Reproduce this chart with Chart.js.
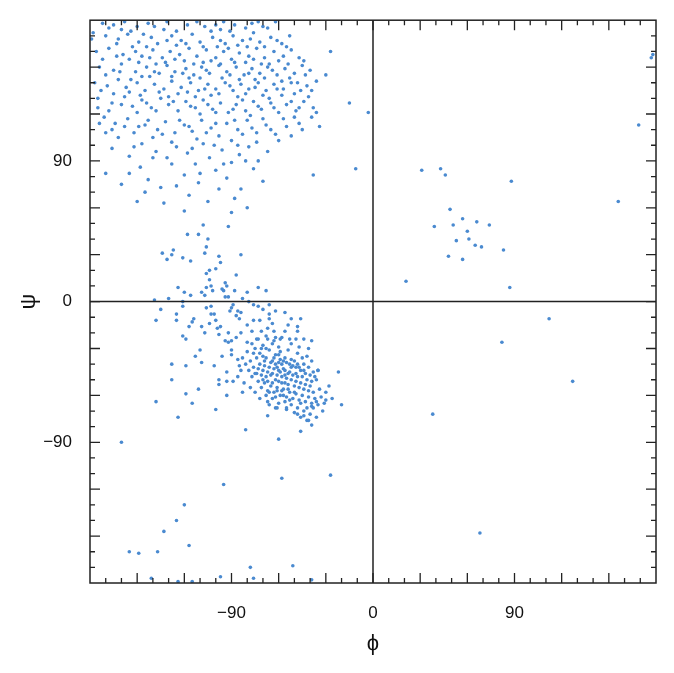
<!DOCTYPE html>
<html><head><meta charset="utf-8">
<script src="https://cdn.jsdelivr.net/npm/chart.js@4/dist/chart.umd.min.js"></script>
<style>html,body{margin:0;padding:0;background:#fff}#w{width:674px;height:673px}</style>
</head><body><div id="w"><canvas id="c"></canvas></div>
<script>
const betaPoints=[[-172,178],[-165,177],[-158,179],[-150,176],[-143,178],[-131,179],[-118,177],[-107,176],[-95,179],[-88,177],[-77,178],[-70,176],[-62,179],[-133,174],[-160,174],[-103,173],[-97,174],[-67,175],
[-178,172],[-170,170],[-162,168],[-156,171],[-149,166],[-141,169],[-137,165],[-128,170],[-122,167],[-115,171],[-110,166],[-102,169],[-94,165],[-89,170],[-83,167],[-76,172],[-72,166],[-65,169],[-58,165],[-53,170],[-146,171],[-125,164],[-99,163],[-80,163],
[-176,160],[-168,162],[-159,158],[-153,163],[-147,157],[-140,161],[-134,156],[-129,160],[-123,158],[-117,162],[-112,157],[-106,161],[-100,156],[-95,160],[-90,155],[-85,159],[-79,157],[-74,162],[-69,156],[-63,160],[-57,157],[-52,161],[-47,156],[-155,155],[-138,152],[-120,154],[-108,153],[-92,162],[-81,153],[-66,152],
[-174,150],[-165,148],[-160,152],[-151,147],[-144,150],[-136,146],[-131,151],[-126,147],[-119,149],[-114,145],[-109,150],[-104,146],[-98,151],[-93,147],[-87,150],[-82,145],[-77,149],[-72,146],[-67,150],[-61,145],[-56,149],[-50,146],[-45,151],[-40,148],[-142,144],[-117,143],[-96,143],[-75,142],[-58,141],[-48,140],
[-177,140],[-169,138],[-162,142],[-157,137],[-150,140],[-145,135],[-139,139],[-133,136],[-128,141],[-122,137],[-116,140],[-111,135],[-105,139],[-100,136],[-94,140],[-89,135],[-84,139],[-79,136],[-73,140],[-68,135],[-63,139],[-57,136],[-52,140],[-46,135],[-42,138],[-36,141],[-124,133],[-103,132],[-86,131],[-70,132],
[-175,130],[-166,127],[-158,131],[-153,125],[-147,129],[-141,124],[-135,130],[-130,126],[-124,122],[-119,128],[-113,124],[-108,129],[-102,123],[-97,127],[-92,121],[-87,126],[-81,122],[-76,128],[-71,123],[-65,127],[-60,121],[-55,126],[-49,122],[-44,128],[-38,124],[-150,121],[-110,120],[-78,119],[-58,132],[-41,131],
[-171,118],[-164,114],[-156,117],[-149,112],[-143,116],[-137,110],[-132,115],[-126,108],[-120,113],[-115,109],[-109,116],[-103,111],[-98,106],[-93,114],[-86,110],[-80,116],[-74,108],[-68,113],[-62,107],[-55,112],[-50,118],[-170,108],[-140,105],[-112,104],[-90,103],[-60,103],[-45,110],[-175,124],[-162,105],
[-166,98],[-155,93],[-147,101],[-138,96],[-131,92],[-125,99],[-118,95],[-113,88],[-108,101],[-104,92],[-96,97],[-90,89],[-85,94],[-79,99],[-73,90],[-67,96],[-155,82],[-148,86],[-143,78],[-135,73],[-128,88],[-120,81],[-111,76],[-100,84],[-93,79],[-84,72],[-76,85],[-70,77],[-160,75],[-145,70],[-117,68],[-105,64],[-90,57],[-80,60],[-170,82],[-133,63],[-120,58],[-98,72],
[-38,81],[-15,127],[-3,121],[-11,85],[-30,145],[-27,160],[-179,168],
[-168,175],[-154,173],[-139,176],[-125,173],[-112,179],[-100,177],[-91,173],[-81,175],[-73,179],[-163,165],[-151,160],[-144,163],[-131,167],[-119,165],[-108,163],[-97,167],[-86,164],[-78,168],[-69,163],[-61,167],[-55,163],[-172,155],[-163,157],[-149,153],[-142,156],[-132,153],[-126,155],[-114,152],[-103,154],[-97,152],[-88,153],[-76,155],[-71,152],[-60,154],[-54,152],[-44,154],[-170,145],[-161,147],[-154,142],[-147,144],[-139,147],[-128,144],[-121,146],[-110,143],[-106,148],[-91,145],[-85,142],[-79,146],[-69,143],[-64,148],[-53,143],[-43,145],[-173,135],[-165,133],[-155,134],[-148,132],[-136,134],[-130,131],[-118,134],[-113,131],[-107,136],[-98,133],[-91,138],[-81,133],[-75,137],[-66,130],[-61,136],[-50,133],[-39,135],[-168,122],[-160,126],[-144,127],[-138,122],[-127,128],[-116,125],[-105,126],[-100,121],[-89,123],[-83,129],[-73,125],[-63,124],[-52,128],[-47,124],[-36,121],[-166,110],[-158,112],[-152,108],[-145,113],[-134,107],[-123,116],[-117,112],[-106,108],[-100,114],[-88,116],[-83,107],[-77,111],[-70,117],[-65,110],[-57,117],[-52,106],[-47,114],[-39,118],[-34,112],[-174,114],[-152,99],[-140,92],[-128,102],[-115,98],[-101,100],[-86,100],[-81,90],[-150,64],[-125,74],[-110,82],[-95,88],[-88,66],[-74,102],[-108,49],[-92,48]];
const bridgePoints=[[-118,43],[-111,43],[-105,40],[-106,35],[-134,31],[-127,33],[-128,30],[-131,27],[-121,28],[-116,26],[-107,31],[-98,29],[-97,25],[-84,30],[-100,21],[-104,20],[-106,18],[-87,17],[-104,14],[-103,10],[-106,9],[-124,9],[-120,6],[-116,4],[-109,6],[-107,4],[-102,7],[-96,8],[-94,12],[-93,10],[-95,7],[-88,7],[-80,6],[-73,9],[-68,7],[-94,3],[-92,3],[-83,2],[-79,0],[-130,2],[-139,1],[-121,0],[-121,-3],[-135,-5],[-138,-12],[-125,-8],[-125,-12],[-114,-11],[-115,-13],[-117,-16],[-103,-3],[-106,-4],[-103,-8],[-101,-8],[-104,-14],[-100,-12],[-97,-16],[-99,-17],[-109,-16],[-107,-20],[-98,-21],[-92,-20],[-121,-22],[-119,-24],[-90,-4],[-89,-2],[-91,-6],[-86,-6],[-84,-7],[-87,-9],[-85,-11],[-76,-2],[-73,-3],[-70,-5],[-66,-2],[-62,-6],[-56,-7],[-66,-8],[-80,-15],[-76,-12],[-72,-12],[-77,-19],[-71,-19],[-66,-11],[-64,-14],[-67,-17],[-63,-19],[-52,-11],[-46,-11],[-54,-15],[-48,-16],[-48,-19],[-56,-19],[-62,-23],[-84,-20],[-87,-23],[-92,-26],[-94,-25],[-90,-25],[-80,-26],[-74,-24],[-67,-24],[-59,-24],[-53,-24],[-49,-24],[-44,-24],[-39,-25]];
const alphaPoints=[[-75,-30],[-72,-33],[-70,-28],[-68,-36],[-66,-31],[-64,-38],[-62,-34],[-60,-29],[-58,-40],[-56,-36],[-54,-31],[-52,-42],[-50,-38],[-48,-33],[-46,-44],[-44,-40],[-42,-35],[-78,-38],[-76,-42],[-74,-46],[-72,-40],[-70,-44],[-68,-48],[-66,-42],[-64,-46],[-62,-50],[-60,-44],[-58,-48],[-56,-52],[-54,-46],[-52,-50],[-50,-54],[-48,-48],[-46,-52],[-44,-56],[-42,-50],[-40,-54],[-38,-58],[-73,-51],[-71,-55],[-69,-52],[-67,-57],[-65,-54],[-63,-58],[-61,-55],[-59,-60],[-57,-56],[-55,-61],[-53,-58],[-51,-62],[-49,-59],[-47,-63],[-45,-60],[-43,-64],[-41,-61],[-39,-65],[-37,-62],[-35,-66],[-62,-40],[-59,-37],[-57,-43],[-55,-39],[-53,-45],[-51,-41],[-49,-46],[-47,-42],[-65,-39],[-67,-45],[-63,-43],[-61,-47],[-69,-41],[-71,-47],[-58,-52],[-56,-47],[-54,-53],[-60,-51],[-64,-62],[-60,-65],[-56,-64],[-52,-66],[-48,-68],[-44,-70],[-40,-72],[-50,-71],[-46,-74],[-42,-76],[-55,-69],[-77,-48],[-79,-44],[-81,-40],[-83,-36],[-80,-32],[-77,-27],[-73,-24],[-68,-22],[-63,-25],[-58,-23],[-52,-27],[-47,-29],[-41,-30],[-38,-45],[-36,-50],[-34,-56],[-33,-61],[-31,-65],[-30,-58],[-32,-70],[-36,-74],[-38,-68],[-84,-44],[-86,-48],[-82,-52],[-78,-55],[-75,-58],[-72,-62],[-68,-60],[-66,-66],[-62,-68],[-70,-35],[-64,-27],[-59,-32],[-45,-36],[-43,-46],[-41,-42],[-39,-38],[-37,-48],[-35,-44],[-49,-51],[-57,-60],[-53,-63],[-61,-57],[-67,-51],[-74,-36],[-76,-33],[-71,-30],
[-73,-43],[-69,-38],[-65,-47],[-63,-36],[-61,-42],[-59,-45],[-57,-38],[-55,-49],[-53,-40],[-51,-47],[-49,-42],[-47,-55],[-45,-48],[-43,-53],[-41,-57],[-39,-51],[-58,-57],[-54,-56],[-50,-58],[-46,-65],[-42,-68],[-62,-61],[-66,-58],[-70,-50],[-75,-46],[-64,-52],[-60,-39],[-56,-44],[-52,-37],[-48,-40],[-44,-44],[-40,-47],[-68,-30],[-60,-34],
[-110,-31],[-113,-35],[-109,-39],[-128,-40],[-119,-41],[-101,-41],[-96,-35],[-90,-31],[-90,-34],[-86,-37],[-85,-41],[-93,-45],[-98,-50],[-89,-51],[-93,-51],[-98,-53],[-128,-50],[-111,-56],[-119,-59],[-115,-65],[-138,-64],[-124,-74],[-100,-69],[-93,-60],[-83,-58],[-81,-82],[-67,-73],[-61,-68],[-55,-68],[-48,-72],[-44,-73],[-41,-76],[-39,-79],[-46,-83],[-39,-67],[-36,-64],[-30,-63],[-26,-62],[-20,-66],[-28,-54],[-22,-45],[-35,-44],[-67,-64],[-60,-88]];
const leftPoints=[[178,158],[177,156],[169,113],[31,84],[43,85],[46,81],[88,77],[156,64],[49,59],[57,53],[66,51],[74,49],[39,48],[51,49],[60,45],[61,40],[53,39],[65,36],[69,35],[83,33],[48,29],[57,27],[21,13],[87,9]];
const scatterPoints=[[112,-11],[82,-26],[127,-51],[38,-72],[68,-148],[-160,-90],[-95,-117],[-58,-113],[-27,-111],[-120,-130],[-125,-140],[-133,-147],[-155,-160],[-149,-161],[-137,-160],[-117,-156],[-141,-177],[-124,-179],[-115,-179],[-97,-176],[-78,-170],[-76,-177],[-51,-169],[-39,-178]];
const tickLabels={'-90':'\u221290','0':'0','90':'90'};
const allPoints=[...betaPoints,...bridgePoints,...alphaPoints,...leftPoints,...scatterPoints].map(p=>({x:p[0],y:p[1]}));

const frame={id:'frame',afterDatasetsDraw(ch){
  const c=ch.ctx,a=ch.chartArea,xs=ch.scales.x,ys=ch.scales.y;
  c.save();c.strokeStyle='#222';c.lineWidth=1.3;
  for(let v=-170;v<180;v+=10){
    const L=(v%30===0)?10:5;
    const px=xs.getPixelForValue(v),py=ys.getPixelForValue(v);
    c.beginPath();
    c.moveTo(px,a.bottom);c.lineTo(px,a.bottom-L);
    c.moveTo(px,a.top);c.lineTo(px,a.top+L);
    c.moveTo(a.left,py);c.lineTo(a.left+L,py);
    c.moveTo(a.right,py);c.lineTo(a.right-L,py);
    c.stroke();
  }
  c.lineWidth=1.5;
  const x0=xs.getPixelForValue(0),y0=ys.getPixelForValue(0);
  c.beginPath();c.moveTo(x0,a.top);c.lineTo(x0,a.bottom);c.moveTo(a.left,y0);c.lineTo(a.right,y0);c.stroke();
  c.strokeRect(a.left,a.top,a.right-a.left,a.bottom-a.top);
  c.restore();
}};
const fnt={family:'"Liberation Sans", Arial, sans-serif',size:17};
new Chart(document.getElementById('c'),{
  type:'scatter',
  data:{datasets:[{data:allPoints,backgroundColor:'#4a8ad0',borderWidth:0,pointRadius:1.8}]},
  options:{responsive:true,maintainAspectRatio:false,animation:false,
    layout:{padding:{left:12,top:17,right:18,bottom:12}},
    plugins:{legend:{display:false},tooltip:{enabled:false}},
    scales:{
      x:{min:-180,max:180,grid:{display:false},border:{display:false},
        afterFit(s){s.height=78;},
        ticks:{stepSize:10,autoSkip:false,maxRotation:0,padding:12,color:'#111',font:fnt,callback:v=>tickLabels[v]||''},
        title:{display:true,text:'\u03d5',color:'#111',font:{family:fnt.family,size:22},padding:{top:2}}},
      y:{min:-180,max:180,grid:{display:false},border:{display:false},
        afterFit(s){s.width=78;},
        ticks:{stepSize:10,autoSkip:false,padding:10,color:'#111',font:fnt,callback:v=>tickLabels[v]||''},
        title:{display:true,text:'\u03c8',color:'#111',font:{family:fnt.family,size:22},padding:{bottom:10}}}
    }},
  plugins:[frame]
});
</script></body></html>
